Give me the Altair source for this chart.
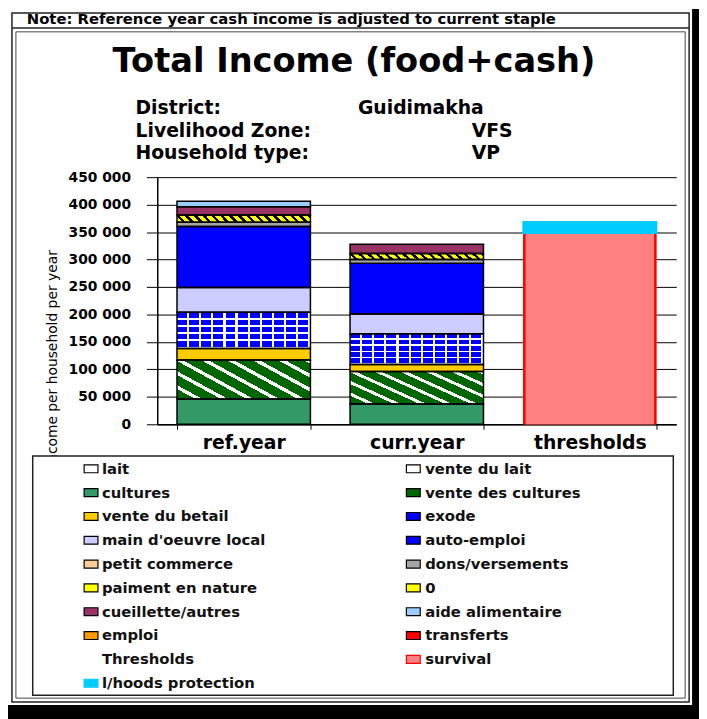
import altair as alt
import pandas as pd

# ---------------- data ----------------
categories = ["ref.year", "curr.year", "thresholds"]
series = ["lait", "vente du lait", "cultures", "vente des cultures", "vente du betail",
          "exode", "main d'oeuvre local", "auto-emploi", "petit commerce", "dons/versements",
          "paiment en nature", "0", "cueillette/autres", "aide alimentaire", "emploi",
          "transferts", "Thresholds", "survival", "l/hoods protection"]
ref_values = [0, 0, 46000, 71000, 21000, 66000, 45000, 111000, 0, 8000,
              13000, 0, 15000, 10000, 0, 0, 0, 0, 0]
curr_values = [0, 0, 37000, 59000, 13000, 56000, 36000, 92000, 0, 7000,
               11000, 0, 17000, 0, 0, 0, 0, 0, 0]
threshold_values = [0, 0, 0, 0, 0, 0, 0, 0, 0, 0,
                    0, 0, 0, 0, 0, 0, 0, 348000, 21000]
series_colors = ["#FFFFFF", "#FFFFFF", "#339966", "#006600", "#FFCC00",
                 "#0000FF", "#CCCCFF", "#0000FF", "#FFCC99", "#A6A6A6",
                 "#FFFF00", "#FFFF00", "#993366", "#99CCFF", "#FF9900",
                 "#FF0000", "#FFFFFF", "#FF8080", "#00CCFF"]
series_strokes = ["#000000"] * 17 + ["#FF0000", "#00CCFF"]
y_ticks = [0, 50000, 100000, 150000, 200000, 250000, 300000, 350000, 400000, 450000]

title_text = "Total Income (food+cash)"
note_text = "Note: Reference year cash income is adjusted to current staple"
info_labels = ["District:", "Livelihood Zone:", "Household type:"]
info_values = ["Guidimakha", "VFS", "VP"]

rows = []
for cat, vals in zip(categories, [ref_values, curr_values, threshold_values]):
    for i, (s, v) in enumerate(zip(series, vals)):
        rows.append({"cat": cat, "series": s, "idx": i, "value": v})
df = pd.DataFrame(rows)
legend_df = pd.DataFrame({"series": series, "idx": list(range(len(series)))})
dummy = pd.DataFrame({"a": [0]})

FONT = "DejaVu Sans"

# ---------------- scales / axes ----------------
xscale = alt.Scale(domain=categories, paddingInner=0.229, paddingOuter=0.114)
yscale = alt.Scale(domain=[0, 450000], nice=False)
fillscale = alt.Scale(domain=series, range=series_colors)
strokescale = alt.Scale(domain=series, range=series_strokes)

xaxis = alt.Axis(labelFont=FONT, labelFontSize=19, labelFontWeight="bold", labelColor="#000",
                 labelAngle=0, labelPadding=4, tickBand="extent", tickSize=5, tickColor="#000",
                 domainColor="#000", domainWidth=1.5, grid=False)
yaxis = alt.Axis(values=y_ticks, labelExpr="replace(format(datum.value, ','), ',', ' ')",
                 labelFont=FONT, labelFontSize=14, labelFontWeight="bold", labelColor="#000",
                 labelPadding=16, tickSize=11, tickColor="#000", domainColor="#000",
                 domainWidth=1.5, grid=True, gridColor="#000", gridWidth=1,
                 titleFont=FONT, titleFontSize=14, titleFontWeight="normal", titleColor="#000",
                 titleX=-106, titleY=183, titleAngle=270, titleAlign="center",
                 titleBaseline="middle")

X = alt.X("cat:N", scale=xscale, axis=xaxis, title=None)
Y = alt.Y("y0:Q", scale=yscale, axis=yaxis, title="Income per household per year")
Y2 = alt.Y2("y1:Q")


def stripe_stops(bg, fg, n, frac):
    out = []
    for i in range(n):
        a = i / n
        m = (i + 1 - frac) / n
        b = (i + 1) / n
        out += [(a, bg), (m, bg), (m, fg), (b, fg)]
    return [alt.GradientStop(color=c, offset=round(o, 4)) for o, c in out]


grad_green = alt.LinearGradient(gradient="linear", x1=0, y1=1, x2=1.194, y2=0.361,
                                stops=stripe_stops("#006600", "#FFFFFF", 8, 0.28))
grad_yellow = alt.LinearGradient(gradient="linear", x1=0, y1=1, x2=1.049, y2=0.945,
                                 stops=stripe_stops("#FFFF00", "#000000", 16, 0.4))
grad_vert = alt.LinearGradient(gradient="linear", x1=0, y1=0, x2=1, y2=0,
                               stops=stripe_stops("rgba(255,255,255,0)", "#FFFFFF", 11, 0.18))
grad_horz = alt.LinearGradient(gradient="linear", x1=0, y1=0, x2=0, y2=1,
                               stops=stripe_stops("rgba(255,255,255,0)", "#FFFFFF", 5, 0.25))

stacked = alt.Chart(df).transform_filter("datum.value > 0").transform_stack(
    stack="value", groupby=["cat"], sort=[alt.SortField("idx", order="ascending")],
    as_=["y0", "y1"])

bars = stacked.mark_bar().encode(
    x=X, y=Y, y2=Y2, fill=alt.Fill("series:N", scale=fillscale, legend=None))
pat_green = stacked.transform_filter("datum.series == 'vente des cultures'").mark_bar(
    fill=grad_green).encode(x=X, y=Y, y2=Y2)
pat_yellow = stacked.transform_filter("datum.series == 'paiment en nature'").mark_bar(
    fill=grad_yellow).encode(x=X, y=Y, y2=Y2)
pat_v = stacked.transform_filter("datum.series == 'exode'").mark_bar(
    fill=grad_vert).encode(x=X, y=Y, y2=Y2)
pat_h = stacked.transform_filter("datum.series == 'exode'").mark_bar(
    fill=grad_horz).encode(x=X, y=Y, y2=Y2)
surv_red = stacked.transform_filter("datum.series == 'survival'").mark_bar(
    fill="#FF0000").encode(x=X, y=Y, y2=Y2)
surv_pink = stacked.transform_filter("datum.series == 'survival'").mark_bar(
    fill="#FF8080", width=130).encode(x=X, y=Y, y2=Y2)
outline = stacked.transform_filter("datum.series != 'survival'").mark_bar(
    fill="transparent", strokeWidth=1.5).encode(
    x=X, y=Y, y2=Y2,
    stroke=alt.Stroke("series:N", scale=strokescale, legend=None))

# ---------------- legend ----------------
leg = alt.Chart(legend_df).transform_calculate(
    col="datum.idx % 2", row="floor(datum.idx / 2)"
).transform_calculate(
    cx="datum.col == 0 ? -67 : 259", ly="295 + datum.row * 24.1",
    tx="datum.col == 0 ? -56 : 271"
).transform_calculate(
    sx1="datum.cx - 7", sx2="datum.cx + 7", sy1="datum.ly - 4", sy2="datum.ly + 4")

leg_sym = leg.transform_filter("datum.series != 'Thresholds'").mark_rect(strokeWidth=1.2).encode(
    x=alt.X("sx1:Q", scale=None, axis=None), x2="sx2:Q",
    y=alt.Y("sy1:Q", scale=None, axis=None), y2="sy2:Q",
    fill=alt.Fill("series:N", scale=fillscale, legend=None),
    stroke=alt.Stroke("series:N", scale=strokescale, legend=None))
leg_txt = leg.mark_text(align="left", baseline="middle", font=FONT, fontSize=15,
                        fontWeight="bold", color="#111").encode(
    x=alt.X("tx:Q", scale=None, axis=None), y=alt.Y("ly:Q", scale=None, axis=None),
    text="series:N")


def box(x, x2, y, y2, **kw):
    return alt.Chart(dummy).mark_rect(**kw).encode(
        x=alt.value(x), x2=alt.value(x2), y=alt.value(y), y2=alt.value(y2))


def label(txt, x, y, **kw):
    return alt.Chart(dummy).mark_text(text=txt, font=FONT, color="#000", **kw).encode(
        x=alt.value(x), y=alt.value(y))


legend_box = box(-126, 522, 282, 524, fill="#FFFFFF", stroke="#222", strokeWidth=1.5)
frame_outer = box(-147, 538, -166, 531, fill="transparent", stroke="#222", strokeWidth=1.5)
frame_inner = box(-143, 534, -147, 527, fill="transparent", stroke="#444", strokeWidth=1)
note_line = alt.Chart(dummy).mark_rule(color="#222", strokeWidth=1.5).encode(
    x=alt.value(-147), x2=alt.value(538), y=alt.value(-151))
black_right = box(541, 560, -170, 560, fill="#000", stroke="transparent")
black_bottom = box(-160, 560, 534, 560, fill="#000", stroke="transparent")

title = label(title_text, 199, -106, fontSize=34, fontWeight="bold", align="center",
              baseline="alphabetic")
note = label(note_text, -132, -155, fontSize=15, fontWeight="bold", align="left",
             baseline="alphabetic")
info = []
for i, (lab, val) in enumerate(zip(info_labels, info_values)):
    yb = -63.5 + 22.5 * i
    info.append(label(lab, -22, yb, fontSize=19, fontWeight="bold", align="left",
                      baseline="alphabetic"))
    info.append(label(val, 203 if i == 0 else 318, yb, fontSize=19, fontWeight="bold",
                      align="left", baseline="alphabetic"))

chart = alt.layer(
    frame_outer, frame_inner, note_line, black_right, black_bottom,
    bars, pat_green, pat_yellow, pat_v, pat_h, surv_red, surv_pink, outline,
    legend_box, leg_sym, leg_txt, title, note, *info
).properties(
    width=525, height=250,
    autosize=alt.AutoSizeParams(type="none"),
    padding={"left": 151, "top": 167, "right": 23, "bottom": 294},
).configure_view(stroke="transparent")

chart.save("out.html", embed_options={"renderer": "svg", "actions": False})
